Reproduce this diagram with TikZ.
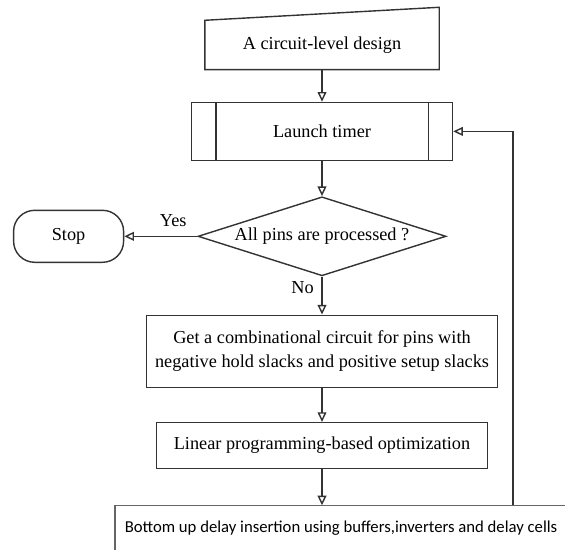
\documentclass[tikz,border=0pt]{standalone}
\usepackage{fontspec}
\setmainfont{Liberation Serif}
\newfontfamily\gillfont{Carlito}
\usetikzlibrary{arrows.meta,positioning,shapes.geometric,calc}
\tikzset{
    flowbox/.style={draw=black!80, line width=0.8pt, align=center, inner sep=2pt,
        font=\fontsize{10.4}{13.5}\selectfont},
    flowarrow/.style={-{Triangle[open, length=5.5pt, width=5pt]}, draw=black!80, line width=0.8pt},
    flowlabel/.style={font=\fontsize{10.4}{12}\selectfont}
}

\begin{document}
\begin{tikzpicture}
\useasboundingbox (-6.44,0.9) rectangle (4.86,-10.08);
\node[flowbox, draw=none, minimum width=4.66cm, minimum height=0.96cm] (design) at (0,0) {A circuit-level design};
\draw[black!80, line width=0.8pt] (design.south west) -- (design.south east)
    -- ([yshift=0.26cm]design.north east) -- (design.north west) -- cycle;
\node[flowbox, below=0.64cm of design, minimum width=5.22cm, minimum height=1.16cm] (launch) {Launch timer};
\draw[black!80, line width=0.8pt] ([xshift=0.5cm]launch.north west) -- ([xshift=0.5cm]launch.south west);
\draw[black!80, line width=0.8pt] ([xshift=-0.5cm]launch.north east) -- ([xshift=-0.5cm]launch.south east);
\node[flowbox, diamond, aspect=3.1, inner sep=0pt, below=0.7cm of launch,
    minimum width=4.96cm, minimum height=1.58cm] (check) {All pins are processed ?};
\node[flowbox, rounded corners=12pt, left=1.46cm of check, minimum width=2.2cm, minimum height=1.04cm] (stop) {Stop};
\node[flowbox, below=0.76cm of check, minimum width=7.02cm, minimum height=1.44cm] (comb)
    {Get a combinational circuit for pins with\\negative hold slacks and positive setup slacks};
\node[flowbox, below=0.68cm of comb, minimum width=6.62cm, minimum height=0.92cm] (linprog)
    {Linear programming-based optimization};
\node[flowbox, below=0.72cm of linprog, xshift=0.38cm, minimum width=9.04cm, minimum height=0.9cm,
    draw=black!60, line width=0.6pt, font=\gillfont\fontsize{9.5}{12}\selectfont] (insert)
    {Bottom up delay insertion using buffers,inverters and delay cells};

\draw[flowarrow] (design) -- (launch);
\draw[flowarrow] (launch) -- (check);
\draw[flowarrow] (check) -- node[flowlabel, above=2pt, pos=0.33] {Yes} (stop);
\draw[flowarrow] (check) -- node[flowlabel, left=1pt, pos=0.3] {No} (comb);
\draw[flowarrow] (comb) -- (linprog);
\draw[flowarrow] (linprog.south) -- (linprog.south |- insert.north);
\draw[flowarrow] ([xshift=3.44cm]insert.north) |- (launch.east);
\end{tikzpicture}
\end{document}
